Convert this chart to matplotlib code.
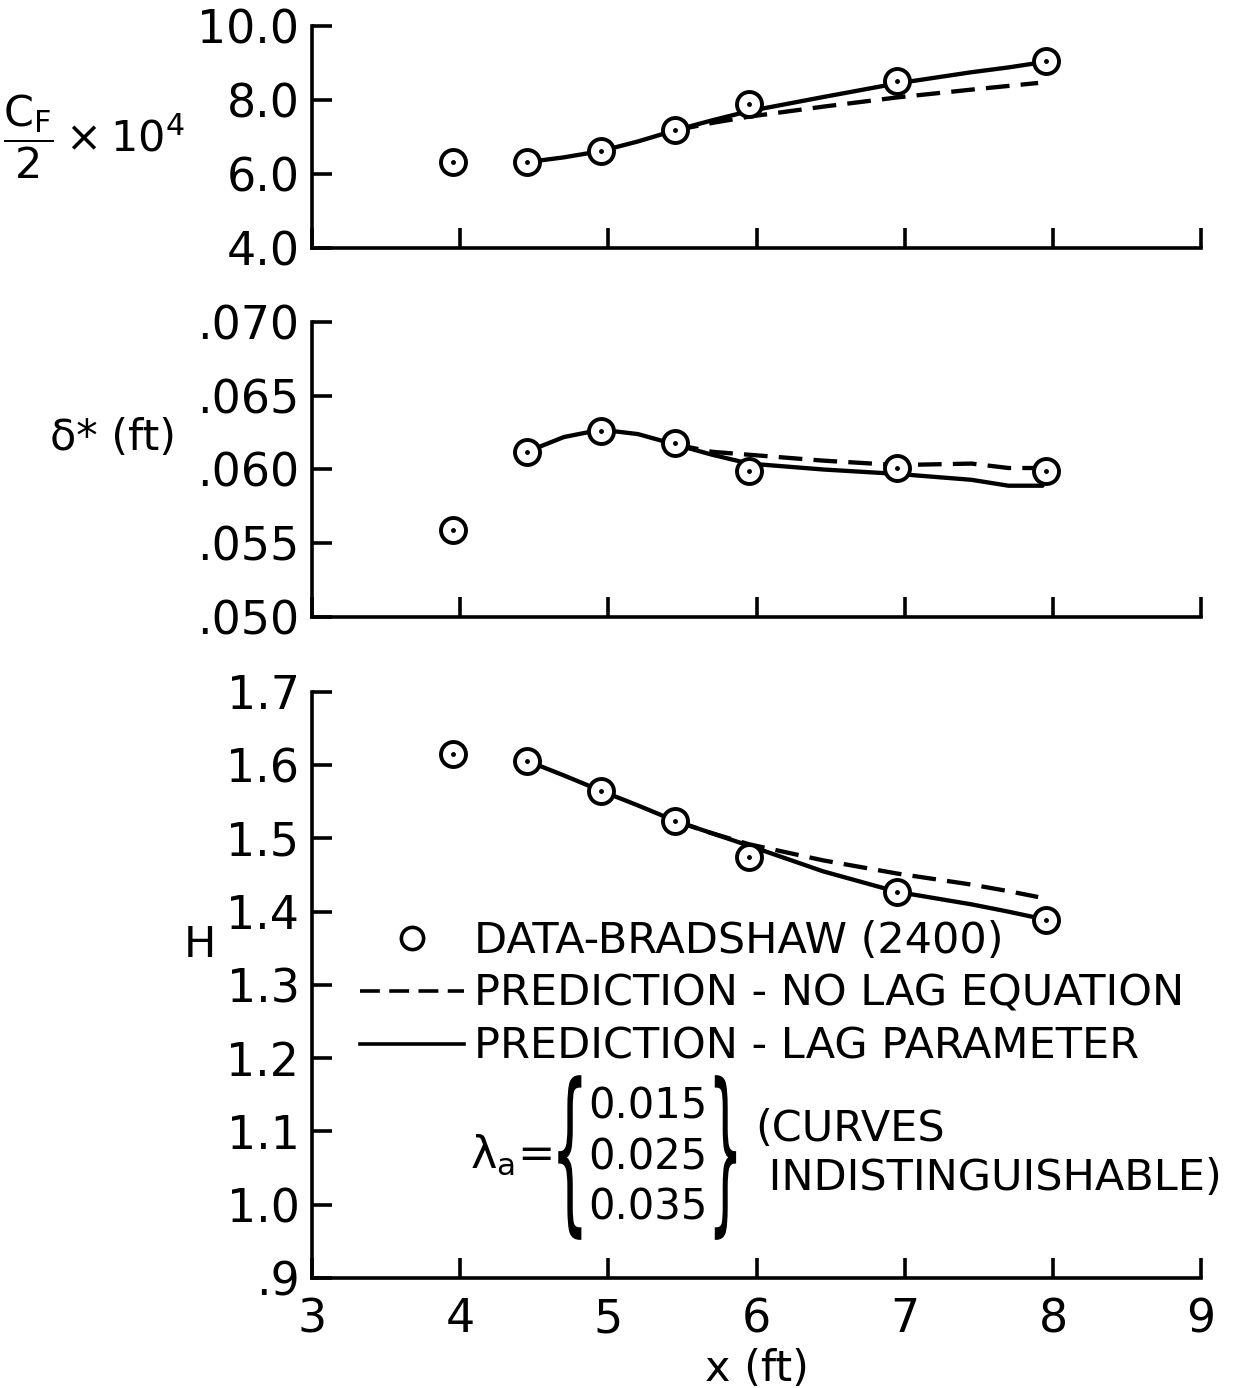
import matplotlib
matplotlib.use("Agg")
import matplotlib.pyplot as plt
from matplotlib.lines import Line2D
from matplotlib.textpath import TextPath
from matplotlib.patches import PathPatch
from matplotlib.font_manager import FontProperties
from matplotlib.transforms import Affine2D

# measured data (Bradshaw 2400)
x_data = [3.95, 4.45, 4.95, 5.45, 5.95, 6.95, 7.95]
cf_data = [6.33, 6.32, 6.62, 7.18, 7.88, 8.52, 9.06]
dstar_data = [0.0559, 0.0612, 0.0626, 0.0618, 0.0599, 0.0601, 0.0599]
h_data = [1.615, 1.606, 1.565, 1.524, 1.475, 1.427, 1.389]

# prediction - lag parameter (solid)
x_lag = [4.45, 4.7, 4.95, 5.2, 5.45, 5.7, 5.95, 6.45, 6.95, 7.45, 7.7, 7.93]
cf_lag = [6.32, 6.45, 6.62, 6.88, 7.18, 7.45, 7.70, 8.08, 8.45, 8.75, 8.88, 9.02]
dstar_lag = [0.0612, 0.0622, 0.0627, 0.0624, 0.0617, 0.0610, 0.0604, 0.0600,
             0.0597, 0.0593, 0.0589, 0.0589]
h_lag = [1.606, 1.586, 1.565, 1.545, 1.524, 1.507, 1.490, 1.455, 1.427,
         1.410, 1.400, 1.390]

# prediction - no lag equation (dashed)
x_nolag = [5.45, 5.7, 5.95, 6.45, 6.95, 7.45, 7.7, 7.9]
cf_nolag = [7.18, 7.38, 7.55, 7.82, 8.07, 8.28, 8.38, 8.46]
dstar_nolag = [0.0617, 0.0612, 0.0610, 0.0606, 0.0603, 0.0604, 0.0601, 0.0601]
h_nolag = [1.524, 1.507, 1.492, 1.470, 1.452, 1.437, 1.428, 1.420]

x_ticks = [3, 4, 5, 6, 7, 8, 9]
cf_ticks = [4.0, 6.0, 8.0, 10.0]
cf_labels = ["4.0", "6.0", "8.0", "10.0"]
ds_ticks = [0.050, 0.055, 0.060, 0.065, 0.070]
ds_labels = [".050", ".055", ".060", ".065", ".070"]
h_ticks = [0.9, 1.0, 1.1, 1.2, 1.3, 1.4, 1.5, 1.6, 1.7]
h_labels = [".9", "1.0", "1.1", "1.2", "1.3", "1.4", "1.5", "1.6", "1.7"]
lam_values = ["0.015", "0.025", "0.035"]

plt.rcParams['font.family'] = ['DejaVu Sans']
plt.rcParams['mathtext.fontset'] = 'dejavusans'
FS = 31
TFS = 33
LW = 2.6

fig = plt.figure(figsize=(12.35, 13.88), dpi=100)
ax1 = fig.add_axes([0.2526, 0.8213, 0.72, 0.16])
ax2 = fig.add_axes([0.2526, 0.5555, 0.72, 0.2125])
ax3 = fig.add_axes([0.2526, 0.0793, 0.72, 0.4222])

panels = [
    (ax1, cf_data, cf_lag, cf_nolag, (4.0, 10.0), cf_ticks, cf_labels),
    (ax2, dstar_data, dstar_lag, dstar_nolag, (0.050, 0.070), ds_ticks, ds_labels),
    (ax3, h_data, h_lag, h_nolag, (0.9, 1.7), h_ticks, h_labels),
]

for ax, yd, ylag, ynolag, ylim, yt, ytl in panels:
    ax.plot(x_lag, ylag, color='black', lw=LW + 0.5, solid_capstyle='round')
    ax.plot(x_nolag, ynolag, color='black', lw=LW + 0.5, dashes=(5.5, 2.6))
    ax.plot(x_data, yd, linestyle='none', marker='o', ms=18, mfc='white',
            mec='black', mew=LW + 0.2, zorder=3)
    ax.plot(x_data, yd, linestyle='none', marker='o', ms=2.5, color='black', zorder=4)
    ax.set_xlim(3, 9)
    ax.set_ylim(*ylim)
    ax.set_xticks(x_ticks)
    ax.set_yticks(yt)
    ax.set_yticklabels(ytl)
    for s in ['top', 'right']:
        ax.spines[s].set_visible(False)
    for s in ['left', 'bottom']:
        ax.spines[s].set_linewidth(LW)
    ax.tick_params(direction='in', length=14.5, width=LW, labelsize=TFS, pad=9)
    ax.tick_params(axis='x', pad=14)

ax1.tick_params(axis='x', labelbottom=False)
ax2.tick_params(axis='x', labelbottom=False)

ax1.set_ylabel(r'$\dfrac{\mathrm{C}_\mathrm{F}}{2}\times\mathrm{10}^4$', fontsize=FS,
               rotation=0, va='center', ha='center')
ax1.yaxis.set_label_coords(-0.245, 0.5)
ax2.set_ylabel('δ* (ft)', fontsize=FS, rotation=0, va='center', ha='center')
ax2.yaxis.set_label_coords(-0.224, 0.607)
ax3.set_ylabel('H', fontsize=FS, rotation=0, va='center', ha='center')
ax3.yaxis.set_label_coords(-0.126, 0.568)
ax3.set_xlabel('x (ft)', fontsize=FS, labelpad=4)

handles = [
    Line2D([], [], linestyle='none', marker='o', ms=16, mfc='white', mec='black', mew=LW),
    Line2D([], [], color='black', lw=LW, dashes=(5.5, 2.6)),
    Line2D([], [], color='black', lw=LW),
]
labels = ["DATA-BRADSHAW (2400)", "PREDICTION - NO LAG EQUATION",
          "PREDICTION - LAG PARAMETER"]
ax3.legend(handles, labels, loc='upper left', bbox_to_anchor=(0.035, 0.64),
           frameon=False, fontsize=FS, handlelength=2.4, handletextpad=0.25,
           labelspacing=0.25, borderaxespad=0)


def brace(ax, ch, x0, x1, y0, y1):
    # glyph stretched to span the three stacked values
    tp = TextPath((0, 0), ch, size=1, prop=FontProperties(family='DejaVu Sans'))
    ext = tp.get_extents()
    tr = Affine2D().translate(-ext.x0, -ext.y0).scale(
        (x1 - x0) / ext.width, (y1 - y0) / ext.height).translate(x0, y0)
    ax.add_patch(PathPatch(tr.transform_path(tp), transform=ax.transAxes,
                           fc='black', ec='none', clip_on=False))


# lambda_a annotation
ax3.text(0.178, 0.21, 'λ$_\\mathrm{a}$=', transform=ax3.transAxes, fontsize=FS + 1,
         ha='left', va='center')
brace(ax3, '{', 0.277, 0.303, 0.065, 0.346)
ax3.text(0.378, 0.206, "\n".join(lam_values), transform=ax3.transAxes,
         fontsize=FS - 1, ha='center', va='center', linespacing=1.25)
brace(ax3, '}', 0.453, 0.477, 0.065, 0.346)
ax3.text(0.498, 0.212, "(CURVES\n INDISTINGUISHABLE)", transform=ax3.transAxes,
         fontsize=FS, ha='left', va='center', linespacing=1.2)

fig.savefig('out.png', dpi=100)
